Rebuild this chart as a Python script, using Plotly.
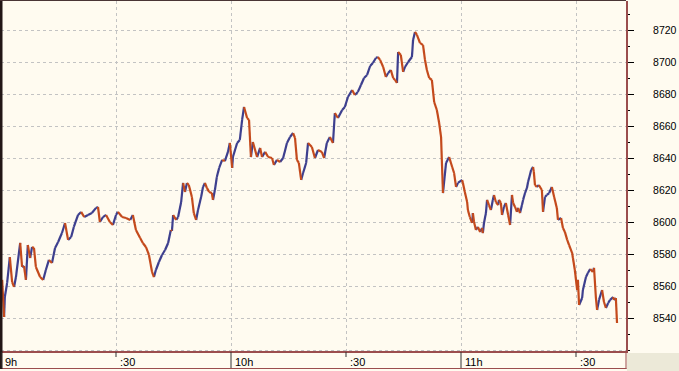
import plotly.graph_objects as go

# minutes after 9:00
times = [0.3, 0.8, 1.0, 1.6, 2.3, 2.9, 3.4, 3.9, 5.0, 5.5, 6.0, 6.5, 7.0, 7.6, 8.1, 8.6, 9.1,
         10.2, 11.0, 11.7, 12.5, 13.3, 14.1, 14.9, 15.9, 16.7, 17.5, 18.3, 19.0, 20.1, 20.9,
         21.7, 22.7, 23.7, 24.8, 25.3, 25.8, 26.6, 27.4, 28.4, 29.2, 30.0, 30.5, 31.6, 32.6,
         33.7, 34.4, 35.2, 36.3, 37.0, 37.8, 38.6, 39.4, 39.9, 40.4, 41.2, 42.0, 42.8, 43.6,
         44.3, 44.6, 44.9, 45.7, 46.2, 47.0, 47.5, 48.0, 48.5, 49.0, 49.8, 50.3, 50.9, 51.4,
         52.2, 52.7, 53.2, 53.7, 54.3, 55.0, 55.3, 55.8, 56.3, 56.9, 57.7, 58.4, 59.2, 59.7,
         60.3, 60.5, 61.6, 62.3, 62.9, 63.4, 64.2, 64.7, 65.2, 65.7, 66.8, 67.6, 68.1, 68.9,
         69.7, 70.7, 71.2, 72.0, 72.8, 73.6, 74.6, 75.4, 76.2, 76.7, 77.2, 77.7, 78.3, 78.8,
         79.6, 80.1, 81.1, 81.9, 82.7, 83.7, 84.3, 85.0, 85.8, 86.6, 87.1, 87.9, 89.0, 89.7,
         90.5, 91.6, 92.3, 93.1, 93.9, 94.7, 95.5, 96.3, 97.0, 97.8, 98.3, 98.9, 99.7, 100.4,
         101.0, 101.7, 102.3, 102.8, 103.3, 103.6, 104.3, 104.9, 105.4, 106.2, 107.2, 107.5,
         108.0, 108.5, 109.3, 110.1, 110.6, 111.1, 111.7, 112.4, 113.0, 113.7, 114.3, 114.8,
         115.0, 115.3, 116.1, 116.9, 117.7, 118.2, 118.7, 119.2, 120.3, 120.5, 121.0, 121.6,
         121.8, 122.3, 122.9, 123.1, 123.4, 123.9, 124.4, 125.0, 125.5, 125.7, 126.0, 126.5,
         126.8, 127.3, 127.8, 128.3, 128.6, 129.1, 129.7, 129.9, 130.4, 130.7, 131.2, 131.7,
         132.3, 132.8, 133.3, 133.6, 134.1, 134.6, 134.9, 135.4, 135.9, 136.2, 136.7, 137.2,
         137.5, 138.3, 138.8, 139.0, 139.3, 139.8, 140.3, 141.1, 141.4, 141.9, 142.4, 143.0,
         143.7, 144.3, 145.0, 145.3, 146.1, 146.6, 147.1, 147.7, 148.2, 149.0, 149.2, 149.7,
         150.3, 150.5, 150.8, 151.6, 151.8, 152.6, 153.1, 153.7, 154.4, 154.7, 155.2, 155.5,
         156.0, 156.8, 157.3, 157.8, 158.4, 158.9, 159.7, 159.9, 160.4, 160.7]

prices = [8563.8, 8540.6, 8553.1, 8561.9, 8578.1, 8562.5, 8559.4, 8565.6, 8586.9, 8571.9, 8572.5,
          8563.8, 8585.6, 8577.5, 8584.4, 8583.8, 8571.9, 8565.6, 8563.8, 8570.0, 8576.3, 8574.4,
          8583.8, 8587.5, 8593.1, 8599.4, 8588.8, 8590.6, 8596.9, 8604.4, 8606.3, 8603.1, 8604.4,
          8605.6, 8608.8, 8609.4, 8600.0, 8603.1, 8604.4, 8600.0, 8598.1, 8604.4, 8606.3, 8603.1,
          8602.5, 8601.3, 8604.4, 8595.0, 8590.0, 8586.9, 8584.4, 8579.4, 8568.8, 8565.6, 8570.0,
          8575.0, 8579.4, 8582.5, 8586.9, 8595.0, 8594.4, 8604.4, 8601.3, 8603.1, 8612.5, 8624.4,
          8618.8, 8624.4, 8623.1, 8615.6, 8605.6, 8601.3, 8607.5, 8615.6, 8621.9, 8624.4, 8621.3,
          8618.8, 8618.1, 8613.8, 8620.0, 8628.1, 8633.8, 8638.8, 8638.1, 8643.8, 8649.4, 8633.8,
          8640.6, 8649.4, 8651.3, 8663.8, 8671.9, 8665.0, 8663.8, 8640.6, 8650.0, 8640.6, 8646.3,
          8640.6, 8643.8, 8640.6, 8640.0, 8635.6, 8638.8, 8637.5, 8640.0, 8649.4, 8653.1, 8655.6,
          8652.5, 8638.8, 8636.9, 8626.3, 8630.6, 8636.9, 8649.4, 8646.9, 8640.0, 8645.0, 8643.8,
          8640.0, 8649.4, 8653.1, 8649.4, 8668.1, 8665.0, 8670.0, 8671.9, 8678.1, 8682.5, 8679.4,
          8681.3, 8685.6, 8690.0, 8691.9, 8697.5, 8699.4, 8702.5, 8703.1, 8701.3, 8696.9, 8690.6,
          8693.1, 8695.0, 8690.0, 8688.8, 8686.9, 8706.3, 8704.4, 8693.8, 8696.9, 8700.0, 8703.1,
          8713.8, 8718.8, 8716.9, 8711.9, 8710.6, 8701.3, 8695.0, 8690.0, 8688.8, 8675.0, 8670.0,
          8661.9, 8653.1, 8638.8, 8618.1, 8636.9, 8640.6, 8634.4, 8630.6, 8621.9, 8624.4, 8626.3,
          8624.4, 8618.8, 8612.5, 8607.5, 8603.1, 8599.4, 8605.6, 8600.0, 8595.0, 8596.9, 8593.8,
          8596.3, 8593.1, 8599.4, 8605.6, 8613.8, 8610.6, 8607.5, 8613.8, 8616.9, 8612.5, 8610.6,
          8613.8, 8611.9, 8604.4, 8609.4, 8611.9, 8604.4, 8598.1, 8616.9, 8611.9, 8609.4, 8606.3,
          8608.8, 8605.6, 8610.6, 8613.8, 8618.1, 8621.3, 8625.0, 8632.5, 8634.4, 8631.3, 8623.1,
          8621.9, 8623.1, 8620.0, 8606.3, 8615.6, 8616.9, 8618.1, 8621.9, 8615.6, 8608.8, 8601.3,
          8602.5, 8596.3, 8593.8, 8588.8, 8585.6, 8580.6, 8577.5, 8570.0, 8557.5, 8563.8, 8548.1,
          8552.5, 8557.5, 8565.6, 8568.1, 8570.6, 8568.8, 8571.3, 8552.5, 8545.0, 8551.3, 8557.5,
          8550.0, 8546.3, 8549.4, 8551.3, 8553.1, 8551.3, 8552.5, 8536.9]

x_tick_vals = [0, 30, 60, 90, 120, 150]
x_tick_text = ["9h", ":30", "10h", ":30", "11h", ":30"]
y_tick_vals = [8540, 8560, 8580, 8600, 8620, 8640, 8660, 8680, 8700, 8720]

UP = "#3d3f8e"
DOWN = "#c44a1c"
BROWN = "#9b4d4d"
BG = "#fffbf0"
GRID = "#c3c3c3"

up_x, up_y, dn_x, dn_y = [], [], [], []
for i in range(1, len(times)):
    if prices[i] >= prices[i - 1]:
        up_x += [times[i - 1], times[i], None]
        up_y += [prices[i - 1], prices[i], None]
    else:
        dn_x += [times[i - 1], times[i], None]
        dn_y += [prices[i - 1], prices[i], None]

fig = go.Figure()
fig.add_trace(go.Scatter(x=up_x, y=up_y, mode="lines", line=dict(color=UP, width=2.2),
                         hoverinfo="skip"))
fig.add_trace(go.Scatter(x=dn_x, y=dn_y, mode="lines", line=dict(color=DOWN, width=2.2),
                         hoverinfo="skip"))

W, H = 679, 371
L, R, T, B = 1, 53, 1, 20
PW, PH = W - L - R, H - T - B


def px(X):
    return (X - L) / PW


def py(Y):
    return (H - B - Y) / PH


shapes = []
# bottom-right grey corner
shapes.append(dict(type="rect", xref="paper", yref="paper", x0=px(627), x1=px(680),
                   y0=py(353), y1=py(372), fillcolor="#ece9d8", line=dict(width=0), layer="below"))
# dashed line at bottom of plot
shapes.append(dict(type="line", xref="paper", yref="paper", x0=px(1), x1=px(626),
                   y0=py(350.5), y1=py(350.5), line=dict(color=GRID, width=1, dash="3px,3px")))
# label strip borders
shapes.append(dict(type="line", xref="paper", yref="paper", x0=px(0), x1=px(626.5),
                   y0=py(368.5), y1=py(368.5), line=dict(color=BROWN, width=1)))
shapes.append(dict(type="line", xref="paper", yref="paper", x0=px(626), x1=px(626),
                   y0=py(351), y1=py(369), line=dict(color=BROWN, width=1)))
# left dark border
shapes.append(dict(type="rect", xref="paper", yref="paper", x0=px(0), x1=px(2.5),
                   y0=py(0), y1=py(369), fillcolor="#221616", line=dict(width=0)))
# top dark border
shapes.append(dict(type="line", xref="paper", yref="paper", x0=px(0), x1=px(626),
                   y0=py(0.5), y1=py(0.5), line=dict(color="#4a3535", width=1)))
# x tick marks in the label strip
for v in x_tick_vals:
    full = (v % 60 == 0)
    shapes.append(dict(type="line", xref="x", yref="paper", x0=v, x1=v,
                       y0=py(352), y1=py(368 if full else 357),
                       line=dict(color="#333333", width=1)))

fig.update_layout(
    width=W, height=H,
    margin=dict(l=L, r=R, t=T, b=B, pad=0, autoexpand=False),
    paper_bgcolor=BG, plot_bgcolor=BG,
    showlegend=False,
    shapes=shapes,
    font=dict(family="Liberation Sans, Arial, sans-serif", size=11, color="#000000"),
)

fig.update_xaxes(
    range=[0, PW * 30 / 115],
    tickvals=x_tick_vals, ticktext=x_tick_text,
    ticks="", ticklabelposition="outside right", ticklabelshift=3,
    showgrid=True, gridcolor=GRID, griddash="3px,3px", gridwidth=1,
    showline=True, linecolor=BROWN, linewidth=2,
    zeroline=False, fixedrange=True, automargin=False,
    tickfont=dict(size=11, color="#000000"),
)

fig.update_yaxes(
    side="right",
    autorange=False,
    range=[8540 - (H - B - 318) / 1.6, 8720 + (30 - T) / 1.6],
    tickvals=y_tick_vals,
    ticks="outside", ticklen=6, tickcolor="#000000", tickwidth=1,
    minor=dict(dtick=10, tick0=0, ticks="outside", ticklen=2, tickcolor="#000000", showgrid=False),
    showgrid=True, gridcolor=GRID, griddash="3px,3px", gridwidth=1,
    showline=True, linecolor=BROWN, linewidth=2,
    zeroline=False, fixedrange=True, automargin=False,
    ticklabelstandoff=17,
    tickfont=dict(size=10.5, color="#000000"),
)

fig.write_html("out.html")
